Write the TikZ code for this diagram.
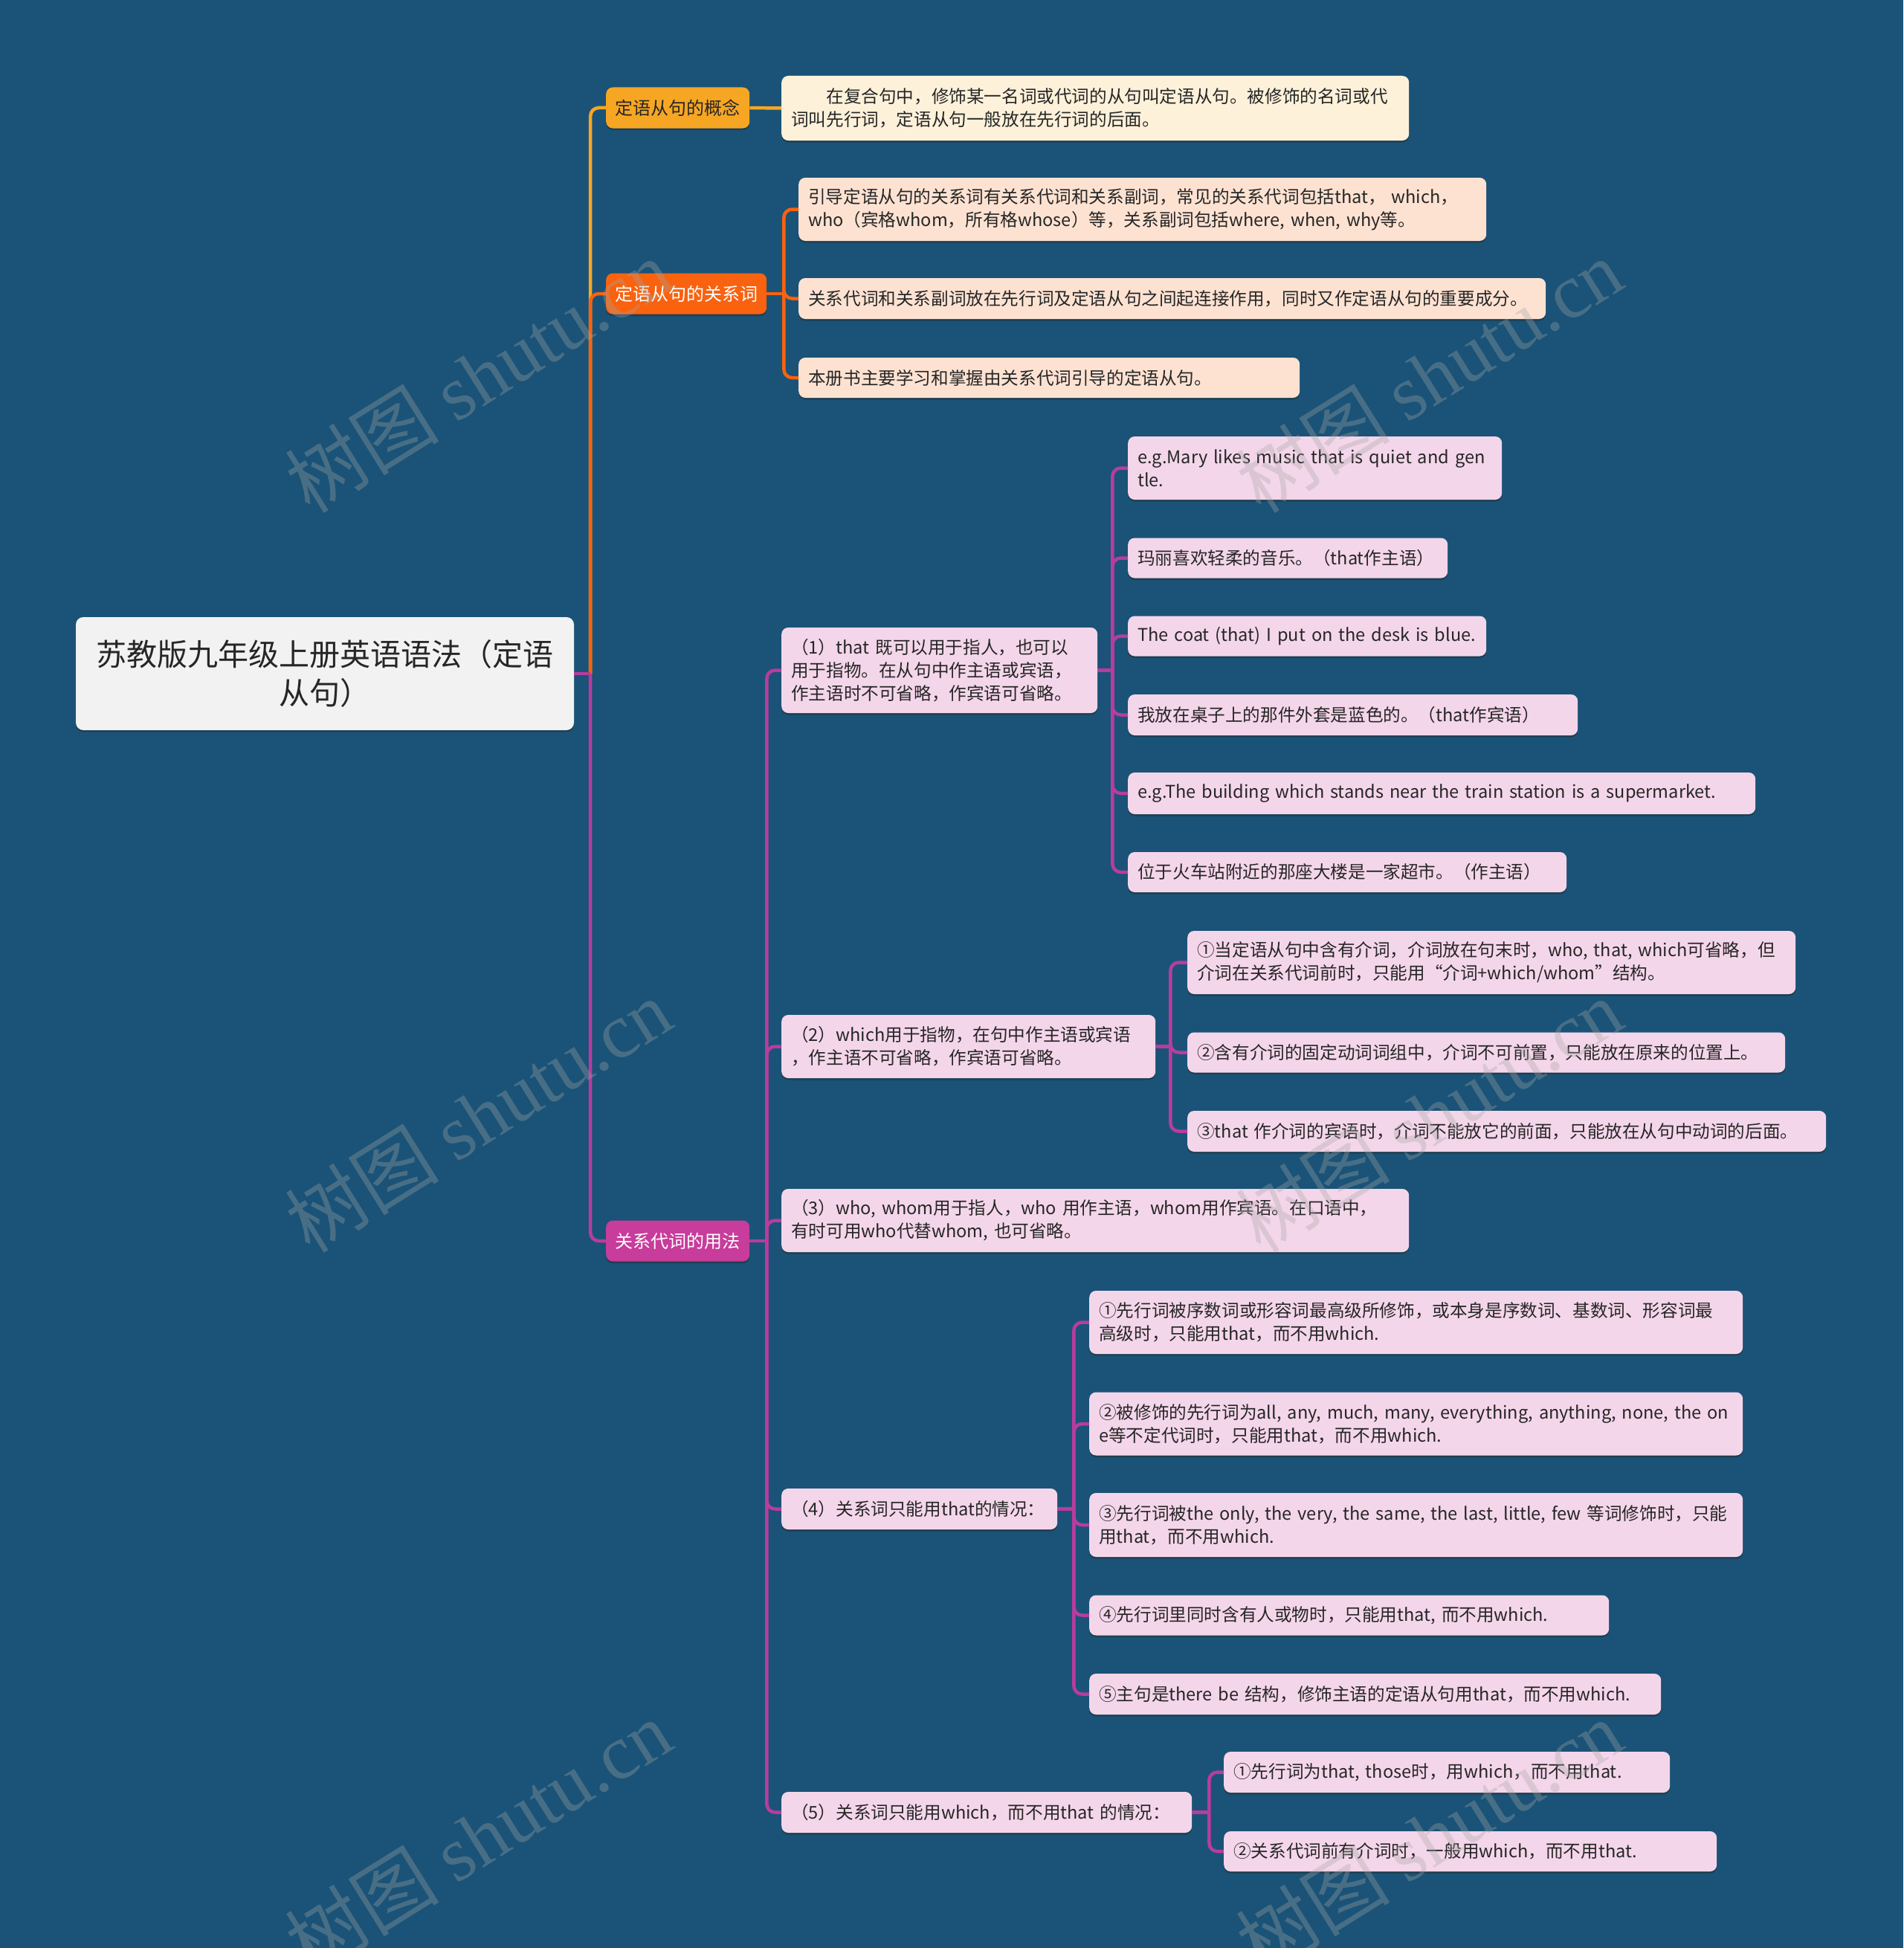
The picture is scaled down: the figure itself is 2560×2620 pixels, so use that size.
\documentclass[tikz,border=0pt]{standalone}
\usepackage{fontspec}
\setmainfont{Noto Sans CJK SC}
\newfontfamily\wmserif{Liberation Serif}
\usetikzlibrary{shadows}
\definecolor{bg}{HTML}{1A5377}
\definecolor{cyel}{HTML}{F7A623}
\definecolor{cora}{HTML}{F9620F}
\definecolor{cmag}{HTML}{C83C9B}
\definecolor{lmag}{HTML}{B83C9E}
\definecolor{cream}{HTML}{FEF1DA}
\definecolor{peach}{HTML}{FDE2D2}
\definecolor{pinkb}{HTML}{F4D6EA}
\definecolor{rootf}{HTML}{F2F2F2}
\definecolor{txt}{HTML}{262626}
\newcommand{\lnx}[1]{\mbox{#1}}
\begin{document}
\begin{tikzpicture}[x=1pt,y=-1pt,
  box/.style={rounded corners=9pt, anchor=west, inner xsep=13pt, inner ysep=0pt,
    align=left, text=txt, font=\fontsize{23.6}{31}\selectfont,
    drop shadow={shadow xshift=0pt, shadow yshift=-2.5pt, opacity=0.45, fill=black!85}},
  creambox/.style={box, fill=cream},
  peachbox/.style={box, fill=peach},
  pinkbox/.style={box, fill=pinkb},
  lone/.style={rounded corners=9pt, anchor=west, inner xsep=0pt, inner ysep=0pt,
    minimum height=55pt, align=center, font=\fontsize{24}{31}\selectfont,
    drop shadow={shadow xshift=0pt, shadow yshift=-2.5pt, opacity=0.45, fill=black!85}},
  conn/.style={line width=4.5pt},
  rc/.style={conn, rounded corners=11pt},
  wm/.style={rotate=32, text=gray!70, opacity=0.33, font=\fontsize{104}{104}\selectfont, inner sep=0pt}
]
\useasboundingbox (0,0) rectangle (2560,2620);
\fill[bg] (0,0) rectangle (2560,2620);

% root
\node[rounded corners=10pt, fill=rootf, text=txt, minimum width=670pt, minimum height=152pt,
  inner sep=0pt, align=center, font=\fontsize{41}{52}\selectfont,
  drop shadow={shadow xshift=0pt, shadow yshift=-2.5pt, opacity=0.45, fill=black!85}]
  (root) at (437,906) {苏教版九年级上册英语语法（定语\\从句）};

% level 1
\node[lone, fill=cyel, text=txt, minimum width=193pt] (n1) at (815,145) {定语从句的概念};
\node[lone, fill=cora, text=white, minimum width=216pt] (n2) at (815,395) {定语从句的关系词};
\node[lone, fill=cmag, text=white, minimum width=193pt] (n3) at (815,1669) {关系代词的用法};

% level 2
\node[creambox, text width=818pt, minimum height=87pt] (c1) at (1051,145.5)
  {\lnx{\hspace*{2em}在复合句中，修饰某一名词或代词的从句叫定语从句。被修饰的名词或代}\\\lnx{词叫先行词，定语从句一般放在先行词的后面。}};

\node[peachbox, text width=899pt, minimum height=85pt] (r1) at (1074,281.5)
  {\lnx{引导定语从句的关系词有关系代词和关系副词，常见的关系代词包括that， which，}\\\lnx{who（宾格whom，所有格whose）等，关系副词包括where, when, why等。}};
\node[peachbox, text width=979pt, minimum height=55pt] (r2) at (1074,401.5)
  {\lnx{关系代词和关系副词放在先行词及定语从句之间起连接作用，同时又作定语从句的重要成分。}};
\node[peachbox, text width=648pt, minimum height=54pt] (r3) at (1074,508)
  {\lnx{本册书主要学习和掌握由关系代词引导的定语从句。}};

\node[pinkbox, text width=399pt, minimum height=115pt] (u1) at (1051,901.5)
  {\lnx{（1）that 既可以用于指人，也可以}\\\lnx{用于指物。在从句中作主语或宾语，}\\\lnx{作主语时不可省略，作宾语可省略。}};
\node[pinkbox, text width=477pt, minimum height=85pt] (u2) at (1051,1407.5)
  {\lnx{（2）which用于指物，在句中作主语或宾语}\\\lnx{，作主语不可省略，作宾语可省略。}};
\node[pinkbox, text width=818pt, minimum height=85pt] (u3) at (1051,1641.5)
  {\lnx{（3）who, whom用于指人，who 用作主语，whom用作宾语。在口语中，}\\\lnx{有时可用who代替whom, 也可省略。}};
\node[pinkbox, text width=345pt, minimum height=55pt] (u4) at (1051,2029.5)
  {\lnx{（4）关系词只能用that的情况：}};
\node[pinkbox, text width=526pt, minimum height=55pt] (u5) at (1051,2437.5)
  {\lnx{（5）关系词只能用which，而不用that 的情况：}};

% level 3 under (1)
\node[pinkbox, text width=477pt, minimum height=85pt] (a1) at (1517,629.5)
  {\lnx{e.g.Mary likes music that is quiet and gen}\\\lnx{tle.}};
\node[pinkbox, text width=404pt, minimum height=54pt] (a2) at (1517,750.5)
  {\lnx{玛丽喜欢轻柔的音乐。（that作主语）}};
\node[pinkbox, text width=456pt, minimum height=54pt] (a3) at (1517,855.5)
  {\lnx{The coat (that) I put on the desk is blue.}};
\node[pinkbox, text width=579pt, minimum height=55pt] (a4) at (1517,961.5)
  {\lnx{我放在桌子上的那件外套是蓝色的。（that作宾语）}};
\node[pinkbox, text width=818pt, minimum height=56pt] (a5) at (1517,1067)
  {\lnx{e.g.The building which stands near the train station is a supermarket.}};
\node[pinkbox, text width=564pt, minimum height=54pt] (a6) at (1517,1173)
  {\lnx{位于火车站附近的那座大楼是一家超市。（作主语）}};

% under (2)
\node[pinkbox, text width=792pt, minimum height=85pt] (b1) at (1597,1294.5)
  {\lnx{①当定语从句中含有介词，介词放在句末时，who, that, which可省略，但}\\\lnx{介词在关系代词前时，只能用“介词+which/whom”结构。}};
\node[pinkbox, text width=778pt, minimum height=54pt] (b2) at (1597,1415.5)
  {\lnx{②含有介词的固定动词词组中，介词不可前置，只能放在原来的位置上。}};
\node[pinkbox, text width=833pt, minimum height=55pt] (b3) at (1597,1521.5)
  {\lnx{③that 作介词的宾语时，介词不能放它的前面，只能放在从句中动词的后面。}};

% under (4)
\node[pinkbox, text width=853pt, minimum height=85pt] (d1) at (1465,1778.5)
  {\lnx{①先行词被序数词或形容词最高级所修饰，或本身是序数词、基数词、形容词最}\\\lnx{高级时，只能用that，而不用which.}};
\node[pinkbox, text width=853pt, minimum height=85pt] (d2) at (1465,1915)
  {\lnx{②被修饰的先行词为all, any, much, many, everything, anything, none, the on}\\\lnx{e等不定代词时，只能用that，而不用which.}};
\node[pinkbox, text width=853pt, minimum height=86pt] (d3) at (1465,2051)
  {\lnx{③先行词被the only, the very, the same, the last, little, few 等词修饰时，只能}\\\lnx{用that，而不用which.}};
\node[pinkbox, text width=673pt, minimum height=54pt] (d4) at (1465,2172.5)
  {\lnx{④先行词里同时含有人或物时，只能用that, 而不用which.}};
\node[pinkbox, text width=743pt, minimum height=55pt] (d5) at (1465,2278.5)
  {\lnx{⑤主句是there be 结构，修饰主语的定语从句用that，而不用which.}};

% under (5)
\node[pinkbox, text width=574pt, minimum height=55pt] (e1) at (1646,2383.5)
  {\lnx{①先行词为that, those时，用which，而不用that.}};
\node[pinkbox, text width=637pt, minimum height=54pt] (e2) at (1646,2490)
  {\lnx{②关系代词前有介词时，一般用which，而不用that.}};

% connectors: root to level 1
\coordinate (tR) at ([xshift=22pt]root.east);
\draw[conn, cyel] (root.east) -- (tR);
\draw[rc, cyel] (tR) |- (n1.west);
\draw[rc, cora] (tR) |- (n2.west);
\draw[conn, lmag] (root.east) -- (tR);
\draw[rc, lmag] (tR) |- (n3.west);

% concept
\draw[conn, cyel] (n1.east) -- (c1.west);

% relation words
\coordinate (t2) at ([xshift=23pt]n2.east);
\draw[conn, cora] (n2.east) -- (t2);
\foreach \c in {r1,r2,r3} \draw[rc, cora] (t2) |- (\c.west);

% usage
\coordinate (t3) at ([xshift=23pt]n3.east);
\draw[conn, lmag] (n3.east) -- (t3);
\foreach \c in {u1,u2,u3,u4,u5} \draw[rc, lmag] (t3) |- (\c.west);

\coordinate (tu1) at ([xshift=20pt]u1.east);
\draw[conn, lmag] (u1.east) -- (tu1);
\foreach \c in {a1,a2,a3,a4,a5,a6} \draw[rc, lmag] (tu1) |- (\c.west);

\coordinate (tu2) at ([xshift=20pt]u2.east);
\draw[conn, lmag] (u2.east) -- (tu2);
\foreach \c in {b1,b2,b3} \draw[rc, lmag] (tu2) |- (\c.west);

\coordinate (tu4) at ([xshift=22pt]u4.east);
\draw[conn, lmag] (u4.east) -- (tu4);
\foreach \c in {d1,d2,d3,d4,d5} \draw[rc, lmag] (tu4) |- (\c.west);

\coordinate (tu5) at ([xshift=23pt]u5.east);
\draw[conn, lmag] (u5.east) -- (tu5);
\foreach \c in {e1,e2} \draw[rc, lmag] (tu5) |- (\c.west);

% watermarks
\foreach \p/\q in {643/505, 1922/505, 643/1500, 1922/1500, 643/2470, 1922/2470}
  \node[wm] (wm\p\q) at (\p,\q) {树图 {\wmserif shutu.cn}};
\end{tikzpicture}
\end{document}
